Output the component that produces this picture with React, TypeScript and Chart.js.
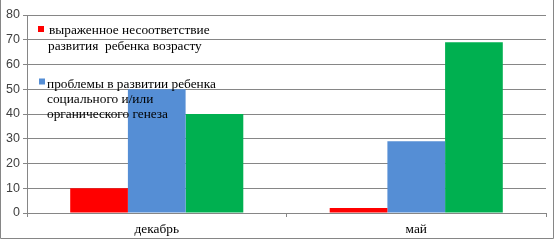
import React, { useEffect, useRef } from "react";
import { Chart, registerables } from "chart.js";

Chart.register(...registerables);

const categories = ["декабрь", "май"];
const seriesNames = [
  "выраженное несоответствие развития  ребенка возрасту",
  "проблемы в развитии ребенка социального и/или органического генеза",
  "",
];
const legendLines = [
  ["выраженное несоответствие", "развития  ребенка возрасту"],
  ["проблемы в развитии ребенка", "социального и/или", "органического генеза"],
];
const redValues = [10, 2];
const blueValues = [50, 29];
const greenValues = [40, 69];
const colors = ["#ff0000", "#558ed5", "#00b050"];
const yMax = 80;
const yStep = 10;

const GRID = "#868686";

const framePlugin = {
  id: "frame",
  afterDraw(chart: any) {
    const ctx = chart.ctx;
    ctx.save();
    ctx.strokeStyle = GRID;
    ctx.lineWidth = 1;
    ctx.beginPath();
    ctx.moveTo(0.5, -1);
    ctx.lineTo(0.5, 238.5);
    ctx.lineTo(553.5, 238.5);
    ctx.lineTo(553.5, -1);
    ctx.stroke();

    // legend (drawn over the plot, like the reference)
    ctx.font = '13.33px "Liberation Serif"';
    ctx.textBaseline = "middle";
    const items = [
      { ys: [30, 46], xs: [49, 48], sqx: 38, sqy: 29 },
      { ys: [84, 99, 114], xs: [47, 47, 47], sqx: 39, sqy: 81.5 },
    ];
    items.forEach((it, i) => {
      ctx.fillStyle = colors[i];
      ctx.fillRect(it.sqx, it.sqy - 3, 6, 6);
      ctx.fillStyle = "#000";
      legendLines[i].forEach((line, j) => {
        ctx.fillText(line, it.xs[j], it.ys[j]);
      });
    });
    ctx.restore();
  },
};

export default function App() {
  const ref = useRef<HTMLCanvasElement>(null);
  useEffect(() => {
    if (!ref.current) return;
    const chart = new Chart(ref.current, {
      type: "bar",
      data: {
        labels: categories,
        datasets: [redValues, blueValues, greenValues].map((d, i) => ({
          label: seriesNames[i],
          data: d,
          backgroundColor: colors[i],
          borderWidth: 0,
          categoryPercentage: 0.667,
          barPercentage: 1,
        })),
      },
      options: {
        responsive: false,
        animation: false,
        layout: { padding: { top: 15, right: 9, bottom: 0, left: 0 } },
        plugins: { legend: { display: false }, tooltip: { enabled: false } },
        scales: {
          x: {
            offset: true,
            grid: {
              offset: true,
              drawOnChartArea: false,
              drawTicks: true,
              tickLength: 4,
              color: GRID,
            },
            border: { color: GRID },
            ticks: {
              color: "#000",
              font: { family: "Liberation Serif", size: 13.33 },
              padding: 4,
            },
            afterFit(s: any) {
              s.height = 27;
            },
          },
          y: {
            min: 0,
            max: yMax,
            ticks: {
              stepSize: yStep,
              color: "#404040",
              font: { family: "Liberation Sans", size: 12.5 },
              padding: 3,
            },
            grid: { color: GRID, tickLength: 4 },
            border: { color: GRID },
            afterFit(s: any) {
              s.width = 27;
            },
          },
        },
      },
      plugins: [framePlugin],
    });
    return () => chart.destroy();
  }, []);
  return (
    <div style={{ position: "absolute", left: 0, top: 0, width: 555, height: 240, background: "#fff" }}>
      <canvas ref={ref} width={555} height={240} style={{ display: "block" }} />
    </div>
  );
}
